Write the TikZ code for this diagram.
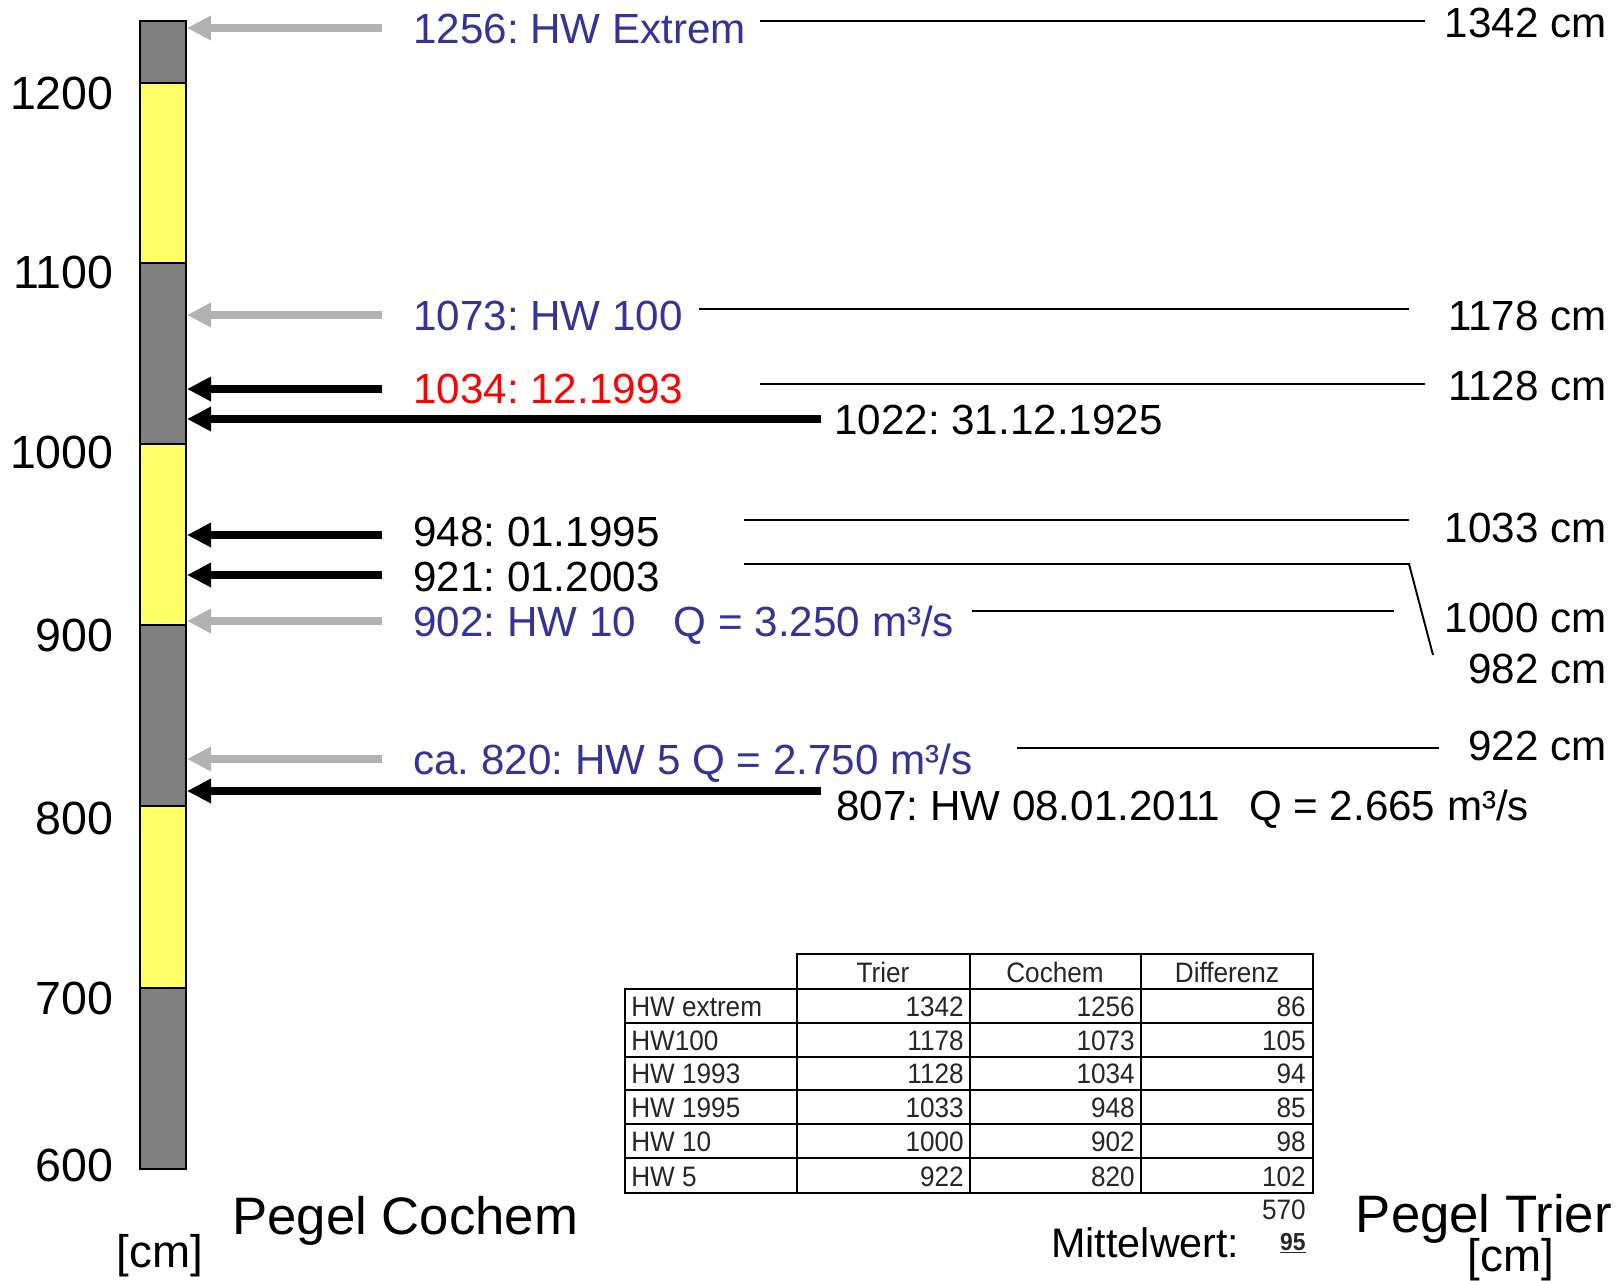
\documentclass[tikz,border=0pt]{standalone}
\usepackage{fontspec}
\setmainfont{Liberation Sans}
\newfontfamily\tabfont[FakeStretch=0.93]{Liberation Sans}
\usetikzlibrary{arrows.meta}
\definecolor{hwblue}{RGB}{51,51,153}
\definecolor{bargray}{RGB}{128,128,128}
\definecolor{baryellow}{RGB}{255,255,102}
\definecolor{arrgray}{RGB}{178,178,178}
\frenchspacing
\begin{document}
\begin{tikzpicture}[x=0.02cm,y=-0.02cm,
  seg/.style={draw=black,line width=1.1pt},
  tick/.style={anchor=base east,inner sep=0,font=\fontsize{26.5}{30}\selectfont},
  lab/.style={anchor=base west,inner sep=0,font=\fontsize{24}{28}\selectfont},
  rlab/.style={anchor=base east,inner sep=0,font=\fontsize{24}{28}\selectfont},
  big/.style={inner sep=0,font=\fontsize{30}{34}\selectfont},
  unit/.style={anchor=base,inner sep=0,font=\fontsize{26}{30}\selectfont},
  garrow/.style={draw=arrgray,line width=4.6pt,-{Triangle[length=13.7pt,width=13.2pt]}},
  barrow/.style={draw=black,line width=4.6pt,-{Triangle[length=13.7pt,width=13.2pt]}},
  lvl/.style={draw=black,line width=1.1pt},
  grid/.style={draw=black,line width=1.3pt},
  tcell/.style={inner sep=0,text=black!85,font=\tabfont\fontsize{16}{18}\selectfont},
]
\useasboundingbox (0,0) rectangle (1619,1281);

% scale bar
\draw[seg,fill=bargray]    (140,21)  rectangle (186,83);
\draw[seg,fill=baryellow]  (140,83)  rectangle (186,263);
\draw[seg,fill=bargray]    (140,263) rectangle (186,444);
\draw[seg,fill=baryellow]  (140,444) rectangle (186,625);
\draw[seg,fill=bargray]    (140,625) rectangle (186,806);
\draw[seg,fill=baryellow]  (140,806) rectangle (186,988);
\draw[seg,fill=bargray]    (140,988) rectangle (186,1169);

% tick labels
\node[tick] (t1200) at (114,109)  {1200};
\node[tick] (t1100) at (114,288)  {1100};
\node[tick] (t1000) at (114,468)  {1000};
\node[tick] (t900)  at (114,651)  {900};
\node[tick] (t800)  at (114,834)  {800};
\node[tick] (t700)  at (114,1014) {700};
\node[tick] (t600)  at (114,1181) {600};

% arrow coordinates
\coordinate (s1) at (382,28);  \coordinate (e1) at (187,28);
\coordinate (s2) at (382,315); \coordinate (e2) at (187,315);
\coordinate (s3) at (382,389); \coordinate (e3) at (187,389);
\coordinate (s4) at (821,419); \coordinate (e4) at (187,419);
\coordinate (s5) at (382,535); \coordinate (e5) at (187,535);
\coordinate (s6) at (382,575); \coordinate (e6) at (187,575);
\coordinate (s7) at (382,621); \coordinate (e7) at (187,621);
\coordinate (s8) at (382,759); \coordinate (e8) at (187,759);
\coordinate (s9) at (821,791); \coordinate (e9) at (187,791);

\draw[garrow] (s1) -- (e1);
\draw[garrow] (s2) -- (e2);
\draw[barrow] (s3) -- (e3);
\draw[barrow] (s4) -- (e4);
\draw[barrow] (s5) -- (e5);
\draw[barrow] (s6) -- (e6);
\draw[garrow] (s7) -- (e7);
\draw[garrow] (s8) -- (e8);
\draw[barrow] (s9) -- (e9);

% Cochem labels
\node[lab,text=hwblue] (c1) at (413,43)  {1256: HW Extrem};
\node[lab,text=hwblue] (c2) at (413,330) {1073: HW 100};
\node[lab,text=red]    (c3) at (413,403) {1034: 12.1993};
\node[lab]             (c4) at (834,434) {1022: 31.12.1925};
\node[lab]             (c5) at (413,546) {948: 01.1995};
\node[lab]             (c6) at (413,591) {921: 01.2003};
\node[lab,text=hwblue] (c7) at (413,636) {902: HW 10\hspace{0.9em}Q = 3.250 m³/s};
\node[lab,text=hwblue] (c8) at (413,774) {ca. 820: HW 5 Q = 2.750 m³/s};
\node[lab]             (c9) at (836,820) {807: HW 08.01.2011\hspace{0.69em}Q = 2.665 m³/s};

% Trier labels
\node[rlab] (r1) at (1607,37)  {1342 cm};
\node[rlab] (r2) at (1607,330) {1178 cm};
\node[rlab] (r3) at (1607,400) {1128 cm};
\node[rlab] (r4) at (1607,542) {1033 cm};
\node[rlab] (r5) at (1607,632) {1000 cm};
\node[rlab] (r6) at (1607,683) {982 cm};
\node[rlab] (r7) at (1607,760) {922 cm};

% level lines
\coordinate (l1a) at (760,21);  \coordinate (l1b) at (1425,21);
\coordinate (l2a) at (699,309); \coordinate (l2b) at (1409,309);
\coordinate (l3a) at (760,384); \coordinate (l3b) at (1425,384);
\coordinate (l4a) at (744,520); \coordinate (l4b) at (1409,520);
\coordinate (l5a) at (744,564); \coordinate (l5b) at (1409,564); \coordinate (l5c) at (1433,655);
\coordinate (l6a) at (972,611); \coordinate (l6b) at (1394,611);
\coordinate (l7a) at (1017,748); \coordinate (l7b) at (1439,748);
\draw[lvl] (l1a) -- (l1b);
\draw[lvl] (l2a) -- (l2b);
\draw[lvl] (l3a) -- (l3b);
\draw[lvl] (l4a) -- (l4b);
\draw[lvl] (l5a) -- (l5b) -- (l5c);
\draw[lvl] (l6a) -- (l6b);
\draw[lvl] (l7a) -- (l7b);

% bottom titles
\node[big,anchor=base west] (pc) at (232,1234) {Pegel Cochem};
\node[unit] (uc) at (160,1267) {[cm]};
\node[big,anchor=base east] (pt) at (1612,1232) {Pegel Trier};
\node[unit] (ut) at (1511,1271) {[cm]};

% table grid
\draw[grid] (797,954) rectangle (1313,989);
\draw[grid] (625,989) rectangle (1313,1193);
\foreach \yy in {1023,1057,1090,1124,1158} \draw[grid] (625,\yy) -- (1313,\yy);
\foreach \xx in {970,1141} \draw[grid] (\xx,954) -- (\xx,1193);
\draw[grid] (797,989) -- (797,1193);

% table header
\node[tcell,anchor=base] (hT) at (883,982)  {Trier};
\node[tcell,anchor=base] (hC) at (1055,982) {Cochem};
\node[tcell,anchor=base] (hD) at (1227,982) {Differenz};

% table rows
\foreach \nm/\tr/\co/\di/\yb [count=\i] in
  {HW extrem/1342/1256/86/1016,
   HW100/1178/1073/105/1050,
   HW 1993/1128/1034/94/1083,
   HW 1995/1033/948/85/1117,
   HW 10/1000/902/98/1151,
   HW 5/922/820/102/1186}{
  \node[tcell,anchor=base west] (rn\i) at (631,\yb)  {\nm};
  \node[tcell,anchor=base east] (rt\i) at (964,\yb)  {\tr};
  \node[tcell,anchor=base east] (rc\i) at (1135,\yb) {\co};
  \node[tcell,anchor=base east] (rd\i) at (1306,\yb) {\di};
}
\node[tcell,anchor=base east] (sum) at (1306,1219) {570};
\node[lab,font=\fontsize{23.5}{27}\selectfont] (mw) at (1051,1257) {Mittelwert:};
\node[tcell,anchor=base east,font=\tabfont\bfseries\fontsize{14}{16}\selectfont] (mean) at (1306,1250) {\underline{95}};
\end{tikzpicture}
\end{document}
